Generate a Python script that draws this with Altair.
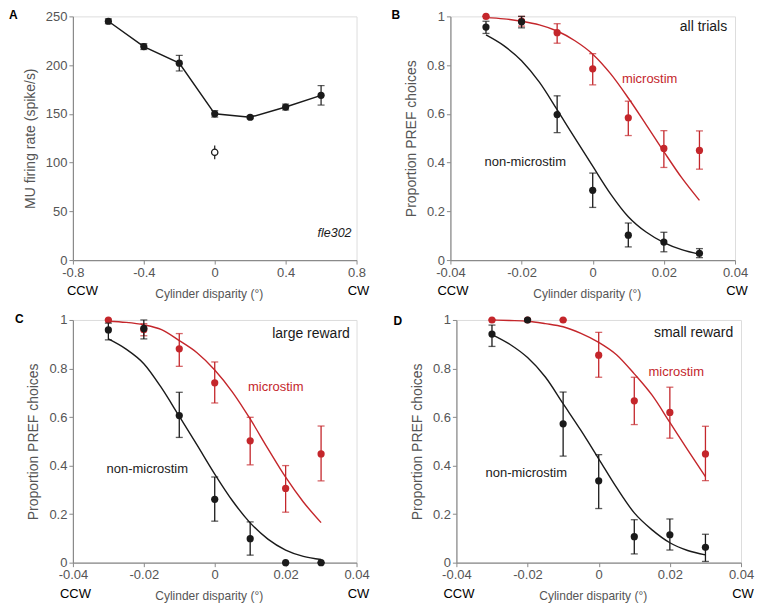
import altair as alt
import pandas as pd

FONT = "Liberation Sans"
RED = "#c4262b"
BLACK = "#1a1a1a"
AXIS_GRAY = "#8a8a8a"
LABEL_GRAY = "#555555"

# ---------------- Panel A: multi-unit firing rate ----------------
a_disp = [-0.6, -0.4, -0.2, 0.0, 0.2, 0.4, 0.6]
a_rate = [245, 219, 202, 150, 146.5, 157, 169]
a_err = [2.5, 3, 8, 3.3, 1.5, 3, 10]
a_open_disp = [0.0]
a_open_rate = [110.5]
a_open_err = [7]

# ---------------- Panels B-D: psychometric data ----------------
disp = [-0.03, -0.02, -0.01, 0.0, 0.01, 0.02, 0.03]

b_ns = [0.956, 0.978, 0.597, 0.286, 0.102, 0.074, 0.028]
b_ns_lo = [0.93, 0.953, 0.523, 0.216, 0.054, 0.034, 0.01]
b_ns_hi = [0.98, 1.0, 0.674, 0.357, 0.152, 0.114, 0.047]
b_ms = [1.0, 0.981, 0.933, 0.785, 0.584, 0.458, 0.45]
b_ms_lo = [1.0, 0.96, 0.89, 0.719, 0.511, 0.38, 0.373]
b_ms_hi = [1.0, 1.0, 0.97, 0.847, 0.652, 0.531, 0.53]

c_ns = [0.959, 0.965, 0.606, 0.261, 0.099, 0.0, 0.0]
c_ns_lo = [0.918, 0.922, 0.516, 0.171, 0.031, 0.0, 0.0]
c_ns_hi = [0.987, 1.0, 0.702, 0.353, 0.168, 0.0, 0.0]
c_ms = [1.0, 0.96, 0.881, 0.741, 0.502, 0.306, 0.448]
c_ms_lo = [1.0, 0.935, 0.809, 0.658, 0.403, 0.208, 0.337]
c_ms_hi = [1.0, 0.985, 0.944, 0.827, 0.599, 0.4, 0.563]

d_ns = [0.942, 1.0, 0.572, 0.337, 0.107, 0.115, 0.063]
d_ns_lo = [0.891, 1.0, 0.439, 0.223, 0.036, 0.052, 0.005]
d_ns_hi = [0.979, 1.0, 0.703, 0.445, 0.177, 0.18, 0.117]
d_ms = [1.0, 1.0, 1.0, 0.855, 0.667, 0.619, 0.448]
d_ms_lo = [1.0, 1.0, 1.0, 0.764, 0.569, 0.513, 0.338]
d_ms_hi = [1.0, 1.0, 1.0, 0.949, 0.764, 0.723, 0.562]

# fitted curves
fit_x = [-0.03, -0.025, -0.02, -0.015, -0.01, -0.005, 0.0, 0.005, 0.01, 0.015, 0.02, 0.025, 0.03]
b_ns_fit = [0.924, 0.88, 0.818, 0.73, 0.617, 0.50, 0.385, 0.272, 0.178, 0.115, 0.072, 0.043, 0.024]
b_ms_fit = [0.995, 0.99, 0.98, 0.965, 0.94, 0.9, 0.845, 0.765, 0.665, 0.556, 0.445, 0.338, 0.245]
c_ns_fit = [0.922, 0.88, 0.82, 0.72, 0.603, 0.485, 0.365, 0.255, 0.164, 0.097, 0.052, 0.026, 0.013]
c_ms_fit = [0.995, 0.99, 0.98, 0.96, 0.915, 0.865, 0.794, 0.703, 0.592, 0.47, 0.352, 0.25, 0.165]
d_ns_fit = [0.94, 0.9, 0.845, 0.765, 0.655, 0.545, 0.428, 0.31, 0.205, 0.135, 0.082, 0.05, 0.032]
d_ms_fit = [1.0, 0.998, 0.995, 0.985, 0.972, 0.945, 0.908, 0.857, 0.778, 0.69, 0.578, 0.465, 0.354]

MINUS_FIX = "replace(format(datum.value, '~g'), '\u2212', '-')"


def x_axis(values, w):
    return alt.Axis(values=values, title="Cylinder disparity (\u00b0)", grid=False,
                    domainColor=AXIS_GRAY, tickColor=AXIS_GRAY, tickSize=4, domainWidth=1.2,
                    labelFont=FONT, labelFontSize=13, labelColor=LABEL_GRAY, labelPadding=2,
                    labelFlush=False, labelOverlap=False, labelExpr=MINUS_FIX,
                    titleFont=FONT, titleFontSize=12, titleFontWeight="normal",
                    titleColor=LABEL_GRAY, titleX=w / 2 - 6, titleY=33,
                    titleBaseline="middle")


def y_axis(values, title):
    return alt.Axis(values=values, title=title, grid=False,
                    domainColor=AXIS_GRAY, tickColor=AXIS_GRAY, tickSize=4, domainWidth=1.2,
                    labelFont=FONT, labelFontSize=13, labelColor=LABEL_GRAY, labelPadding=2,
                    labelOverlap=False, labelExpr=MINUS_FIX,
                    titleFont=FONT, titleFontSize=14, titleFontWeight="normal",
                    titleColor=LABEL_GRAY, titlePadding=8)


def text_layer(df, color, size, align, style="normal", weight="normal"):
    return alt.Chart(df).mark_text(font=FONT, fontSize=size, color=color, align=align,
                                   baseline="middle", fontStyle=style, fontWeight=weight)


def corner_labels(letter, lx, ly, w, h, ccw_dx):
    lab = alt.Chart(pd.DataFrame({"t": [letter]})).mark_text(
        font=FONT, fontSize=12, fontWeight="bold", color="black", align="left",
        baseline="middle").encode(x=alt.value(lx), y=alt.value(ly), text="t:N")
    ccw = alt.Chart(pd.DataFrame({"t": ["CCW"]})).mark_text(
        font=FONT, fontSize=13, color="black", align="left", baseline="middle").encode(
        x=alt.value(ccw_dx), y=alt.value(h + 31), text="t:N")
    cw = alt.Chart(pd.DataFrame({"t": ["CW"]})).mark_text(
        font=FONT, fontSize=13, color="black", align="center", baseline="middle").encode(
        x=alt.value(w + 2), y=alt.value(h + 31), text="t:N")
    return [lab, ccw, cw]


# ---------------- build panel A ----------------
WA, HA = 284, 244
xA = alt.Scale(domain=[-0.8, 0.8], nice=False, zero=False)
yA = alt.Scale(domain=[0, 250], nice=False)

dfA = pd.DataFrame({"x": a_disp, "y": a_rate,
                    "lo": [r - e for r, e in zip(a_rate, a_err)],
                    "hi": [r + e for r, e in zip(a_rate, a_err)]})
dfA_open = pd.DataFrame({"x": a_open_disp, "y": a_open_rate,
                         "lo": [r - e for r, e in zip(a_open_rate, a_open_err)],
                         "hi": [r + e for r, e in zip(a_open_rate, a_open_err)]})

xa_enc = alt.X("x:Q", scale=xA, axis=x_axis([-0.8, -0.6, -0.4, -0.2, 0, 0.2, 0.4, 0.6, 0.8], WA))
ya_enc = alt.Y("y:Q", scale=yA, axis=y_axis([0, 50, 100, 150, 200, 250], "MU firing rate (spike/s)"))

baseA = alt.Chart(dfA)
lineA = baseA.mark_line(color=BLACK, strokeWidth=1.5).encode(x=xa_enc, y=ya_enc)
ruleA = baseA.mark_rule(color=BLACK, strokeWidth=1.2).encode(
    x=alt.X("x:Q", scale=xA), y=alt.Y("lo:Q", scale=yA), y2="hi:Q")
capA1 = baseA.mark_tick(orient="horizontal", size=7, thickness=1.2, color=BLACK).encode(
    x=alt.X("x:Q", scale=xA), y=alt.Y("lo:Q", scale=yA))
capA2 = baseA.mark_tick(orient="horizontal", size=7, thickness=1.2, color=BLACK).encode(
    x=alt.X("x:Q", scale=xA), y=alt.Y("hi:Q", scale=yA))
ptsA = baseA.mark_circle(size=52, opacity=1, color=BLACK).encode(
    x=alt.X("x:Q", scale=xA), y=alt.Y("y:Q", scale=yA))
baseO = alt.Chart(dfA_open)
ruleO = baseO.mark_rule(color=BLACK, strokeWidth=1.2).encode(
    x=alt.X("x:Q", scale=xA), y=alt.Y("lo:Q", scale=yA), y2="hi:Q")
ptsO = baseO.mark_point(shape="circle", size=40, filled=True, fill="white", stroke=BLACK,
                        strokeWidth=1.3, opacity=1).encode(
    x=alt.X("x:Q", scale=xA), y=alt.Y("y:Q", scale=yA))
fleA = text_layer(pd.DataFrame({"x": [0.772], "y": [28], "t": ["fle302"]}), BLACK, 12.5,
                  "right", style="italic").encode(
    x=alt.X("x:Q", scale=xA), y=alt.Y("y:Q", scale=yA), text="t:N")

panelA = alt.layer(lineA, ruleA, capA1, capA2, ruleO, ptsO, ptsA, fleA,
                   *corner_labels("A", -64, -1, WA, HA, -6)).properties(width=WA, height=HA)


# ---------------- psychometric panels ----------------
def psy_panel(letter, w, h, ns, ns_lo, ns_hi, ms, ms_lo, ms_hi, ns_fit, ms_fit,
              cond, cond_xy, ms_xy, ns_xy, lx, ly):
    xs = alt.Scale(domain=[-0.04, 0.04], nice=False, zero=False)
    ys = alt.Scale(domain=[0, 1], nice=False)
    x_enc = alt.X("x:Q", scale=xs, axis=x_axis([-0.04, -0.02, 0, 0.02, 0.04], w))
    y_enc = alt.Y("y:Q", scale=ys, axis=y_axis([0, 0.2, 0.4, 0.6, 0.8, 1], "Proportion PREF choices"))
    xq = alt.X("x:Q", scale=xs)
    layers = []
    dfns = pd.DataFrame({"x": disp, "y": ns, "lo": ns_lo, "hi": ns_hi})
    dfms = pd.DataFrame({"x": disp, "y": ms, "lo": ms_lo, "hi": ms_hi})
    fit_ns = pd.DataFrame({"x": fit_x, "y": ns_fit})
    fit_ms = pd.DataFrame({"x": fit_x, "y": ms_fit})
    layers.append(alt.Chart(fit_ms).mark_line(color=RED, strokeWidth=1.4, interpolate="monotone")
                  .encode(x=x_enc, y=y_enc))
    layers.append(alt.Chart(fit_ns).mark_line(color=BLACK, strokeWidth=1.4, interpolate="monotone")
                  .encode(x=xq, y=alt.Y("y:Q", scale=ys)))
    for df, col in ((dfms, RED), (dfns, BLACK)):
        b = alt.Chart(df)
        layers.append(b.mark_rule(color=col, strokeWidth=1.3).encode(
            x=xq, y=alt.Y("lo:Q", scale=ys), y2="hi:Q"))
        layers.append(b.mark_tick(orient="horizontal", size=7, thickness=1.3, color=col).encode(
            x=xq, y=alt.Y("lo:Q", scale=ys)))
        layers.append(b.mark_tick(orient="horizontal", size=7, thickness=1.3, color=col).encode(
            x=xq, y=alt.Y("hi:Q", scale=ys)))
        layers.append(b.mark_circle(size=52, opacity=1, color=col).encode(
            x=xq, y=alt.Y("y:Q", scale=ys)))
    layers.append(text_layer(pd.DataFrame({"x": [cond_xy[0]], "y": [cond_xy[1]], "t": [cond]}),
                             BLACK, 14, "right").encode(x=xq, y=alt.Y("y:Q", scale=ys), text="t:N"))
    layers.append(text_layer(pd.DataFrame({"x": [ms_xy[0]], "y": [ms_xy[1]], "t": ["microstim"]}),
                             RED, 13, "left").encode(x=xq, y=alt.Y("y:Q", scale=ys), text="t:N"))
    layers.append(text_layer(pd.DataFrame({"x": [ns_xy[0]], "y": [ns_xy[1]], "t": ["non-microstim"]}),
                             BLACK, 13, "left").encode(x=xq, y=alt.Y("y:Q", scale=ys), text="t:N"))
    layers += corner_labels(letter, lx, ly, w, h, -13)
    return alt.layer(*layers).properties(width=w, height=h)


panelB = psy_panel("B", 285, 244, b_ns, b_ns_lo, b_ns_hi, b_ms, b_ms_lo, b_ms_hi,
                   b_ns_fit, b_ms_fit, "all trials", (0.0378, 0.957), (0.0082, 0.745),
                   (-0.0304, 0.401), -59, -1)
panelC = psy_panel("C", 284, 243, c_ns, c_ns_lo, c_ns_hi, c_ms, c_ms_lo, c_ms_hi,
                   c_ns_fit, c_ms_fit, "large reward", (0.0381, 0.942), (0.0094, 0.725),
                   (-0.0305, 0.387), -58, -1)
panelD = psy_panel("D", 285, 243, d_ns, d_ns_lo, d_ns_hi, d_ms, d_ms_lo, d_ms_hi,
                   d_ns_fit, d_ms_fit, "small reward", (0.0378, 0.948), (0.014, 0.784),
                   (-0.0318, 0.37), -63, 1)

row1 = alt.hconcat(panelA, panelB, spacing=20)
row2 = alt.hconcat(panelC, panelD, spacing=22)

chart = alt.vconcat(row1, row2, spacing=12,
                    padding={"left": 0, "top": 0, "right": 0, "bottom": 0}
                    ).configure_view(stroke=None).configure(background="white")

chart.save("out.html", embed_options={"renderer": "svg", "actions": False})
